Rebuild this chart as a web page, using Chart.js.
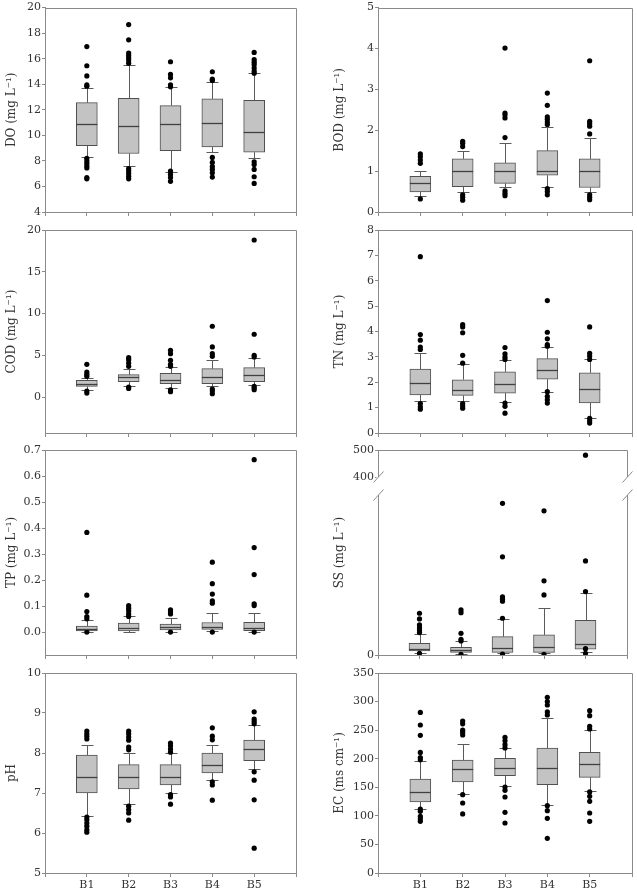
<!DOCTYPE html>
<html><head><meta charset="utf-8">
<script src="https://cdn.jsdelivr.net/npm/chart.js@4.4.1/dist/chart.umd.min.js"></script>
<style>
html,body{margin:0;padding:0;background:#fff;}
#wrap{position:relative;width:637px;height:892px;overflow:hidden;}
#wrap div{position:absolute;}
canvas{display:block;}
</style></head><body><div id="wrap"></div>
<script>
// ---------- DATA ----------
const categories = ['B1','B2','B3','B4','B5'];

const doTicks = [4,6,8,10,12,14,16,18,20];
const doLower = [8.27, 7.62, 7.1, 8.66, 8.19];
const doQ1 = [9.2, 8.58, 8.81, 9.1, 8.68];
const doMedian = [10.87, 10.74, 10.9, 11.0, 10.3];
const doQ3 = [12.56, 12.9, 12.33, 12.85, 12.74];
const doUpper = [13.73, 15.53, 13.81, 14.15, 14.85];
const doOutliers = [
  [16.95, 15.45, 14.65, 13.95, 13.85, 8.2, 8.0, 7.8, 7.6, 7.45, 6.7, 6.6],
  [18.67, 17.48, 16.44, 16.25, 16.07, 15.9, 15.65, 7.4, 7.23, 7.02, 6.8, 6.6],
  [15.76, 14.77, 14.5, 13.96, 13.8, 7.2, 6.94, 6.7, 6.4],
  [14.98, 14.4, 14.3, 8.27, 7.88, 7.56, 7.33, 7.07, 6.73],
  [16.49, 15.92, 15.73, 15.53, 15.27, 15.03, 14.87, 7.93, 7.72, 7.33, 6.76, 6.24]
];

const bodTicks = [0,1,2,3,4,5];
const bodLower = [0.4, 0.49, 0.6, 0.61, 0.49];
const bodQ1 = [0.49, 0.62, 0.7, 0.9, 0.6];
const bodMedian = [0.7, 1.0, 1.0, 1.0, 1.0];
const bodQ3 = [0.87, 1.3, 1.2, 1.5, 1.3];
const bodUpper = [1.0, 1.5, 1.7, 2.08, 1.8];
const bodOutliers = [
  [1.42, 1.35, 1.27, 1.19, 0.32],
  [1.73, 1.68, 1.6, 0.42, 0.36, 0.29],
  [4.01, 2.42, 2.37, 2.3, 1.82, 0.52, 0.46, 0.4],
  [2.91, 2.61, 2.33, 2.27, 2.2, 2.14, 0.57, 0.5, 0.42],
  [3.7, 2.22, 2.16, 2.1, 1.91, 0.42, 0.36, 0.3]
];

const codTicks = [0,5,10,15,20];
const codLower = [0.88, 1.32, 1.08, 1.28, 1.48];
const codQ1 = [1.28, 1.84, 1.6, 1.6, 1.84];
const codMedian = [1.6, 2.4, 2.08, 2.4, 2.64];
const codQ3 = [2.0, 2.68, 2.84, 3.4, 3.52];
const codUpper = [2.32, 3.4, 3.6, 4.48, 4.68];
const codOutliers = [
  [3.92, 3.0, 2.72, 2.48, 0.72, 0.48],
  [4.72, 4.48, 4.08, 3.68, 1.2, 1.04],
  [5.6, 5.2, 4.4, 3.92, 3.68, 0.88, 0.64],
  [8.48, 6.0, 5.2, 4.88, 0.96, 0.72, 0.4],
  [18.8, 7.52, 5.0, 4.8, 1.28, 1.08, 0.88]
];

const tnTicks = [0,1,2,3,4,5,6,7,8];
const tnLower = [1.25, 1.27, 1.22, 1.61, 0.61];
const tnQ1 = [1.5, 1.48, 1.57, 2.12, 1.19];
const tnMedian = [1.96, 1.71, 1.93, 2.47, 1.74];
const tnQ3 = [2.52, 2.1, 2.41, 2.93, 2.37];
const tnUpper = [3.14, 2.72, 2.89, 3.39, 2.9];
const tnOutliers = [
  [6.95, 3.88, 3.66, 3.39, 3.29, 1.16, 1.03, 0.94],
  [4.27, 4.18, 3.95, 3.06, 2.75, 1.16, 1.07, 0.98],
  [3.37, 3.12, 3.0, 2.9, 1.18, 1.05, 0.78],
  [5.22, 3.97, 3.71, 3.48, 3.42, 1.63, 1.44, 1.31, 1.18],
  [4.18, 3.14, 3.03, 2.9, 0.58, 0.48, 0.39]
];

const tpTicks = [0,0.1,0.2,0.3,0.4,0.5,0.6,0.7];
const tpLower = [0.001, 0.0, 0.001, 0.005, 0.001];
const tpQ1 = [0.005, 0.005, 0.008, 0.01, 0.006];
const tpMedian = [0.012, 0.015, 0.02, 0.02, 0.015];
const tpQ3 = [0.023, 0.035, 0.031, 0.037, 0.038];
const tpUpper = [0.047, 0.06, 0.055, 0.073, 0.072];
const tpOutliers = [
  [0.383, 0.142, 0.079, 0.06, 0.051, 0.0],
  [0.102, 0.092, 0.082, 0.07, 0.06],
  [0.086, 0.078, 0.07, 0.0],
  [0.269, 0.186, 0.146, 0.12, 0.111, 0.0],
  [0.663, 0.325, 0.221, 0.109, 0.102, 0.0]
];

const ssTicks = [0];
const ssTopTicks = [400, 500];
const ssLower = [3.1, 1.8, 2.2, 2.2, 4.0];
const ssQ1 = [5.3, 3.6, 3.6, 3.6, 7.6];
const ssMedian = [8, 6.7, 9.3, 10.2, 14.2];
const ssQ3 = [15.6, 10.2, 24.4, 26.7, 46.2];
const ssUpper = [27.6, 19.1, 47.6, 62.2, 82.2];
const ssOutliers = [
  [55.6, 48, 40, 36.4, 33.3, 29.8, 2.2],
  [60, 56.4, 28.9, 20.9, 18.7, 0.9],
  [202, 130.7, 77.3, 74.2, 71.6, 48.9, 1.3],
  [192, 98.7, 80, 0.9],
  [481, 125.3, 84.4, 8.4, 2.2]
];

const phTicks = [5,6,7,8,9,10];
const phLower = [6.43, 6.73, 7.0, 7.32, 7.61];
const phQ1 = [7.0, 7.1, 7.2, 7.5, 7.81];
const phMedian = [7.41, 7.41, 7.41, 7.71, 8.11];
const phQ3 = [7.95, 7.71, 7.71, 8.0, 8.32];
const phUpper = [8.21, 8.0, 8.0, 8.21, 8.69];
const phOutliers = [
  [8.55, 8.48, 8.42, 8.35, 6.4, 6.33, 6.25, 6.17, 6.08, 6.02],
  [8.55, 8.48, 8.4, 8.32, 8.15, 8.08, 6.67, 6.58, 6.5, 6.32],
  [8.25, 8.18, 8.1, 8.02, 6.96, 6.9, 6.72],
  [8.63, 8.42, 8.33, 7.28, 7.2, 6.82],
  [9.03, 8.85, 8.79, 8.73, 7.53, 7.32, 6.83, 5.62]
];

const ecTicks = [0,50,100,150,200,250,300,350];
const ecLower = [112.6, 138.9, 151.7, 118.4, 143];
const ecQ1 = [124.3, 159.3, 170.4, 154.6, 167.4];
const ecMedian = [141.8, 182.6, 183.8, 183.2, 190.2];
const ecQ3 = [164.5, 197.8, 200.7, 218.8, 211.2];
const ecUpper = [196.6, 226.4, 218.8, 271.3, 250.3];
const ecOutliers = [
  [281, 259, 241, 211, 202, 198, 112, 108, 99, 94.5, 90.4],
  [266, 261, 250, 246, 241.5, 137, 122.5, 103.3],
  [237.5, 231.6, 224.6, 218.8, 150.5, 144.7, 133, 106.2, 87.5],
  [307.5, 300, 294, 281.8, 276.5, 117.9, 109.1, 95.7, 60.7],
  [284, 275.4, 256.7, 252, 141.8, 134.2, 125.4, 105, 90.4]
];

// ---------- STYLE / LAYOUT ----------
const FONT = "'DejaVu Serif', 'Liberation Serif', serif";
const AXIS = '#8a8a8a';
const TEXT = '#333333';
const BOX_FILL = '#c3c3c3';
const BOX_EDGE = '#505050';
const WHISK = '#5a5a5a';
const CAP_W = 12;

const ROWS = [
  {top:0,   h:222, pt:7, xh:10},
  {top:222, h:220, pt:8, xh:9},
  {top:442, h:222, pt:8, xh:9},
  {top:664, h:228, pt:9, xh:19}
];
const COLS = [
  {left:0,   w:318, yw:45, pr:22, tpad:5},
  {left:318, w:319, yw:60, pr:5,  tpad:15}
];

const panels = [
  {title:'DO (mg L⁻¹)',  r:0,c:0, lower:doLower,q1:doQ1,med:doMedian,q3:doQ3,upper:doUpper,out:doOutliers, min:4,max:20, ticks:doTicks, dec:0},
  {title:'BOD (mg L⁻¹)', r:0,c:1, lower:bodLower,q1:bodQ1,med:bodMedian,q3:bodQ3,upper:bodUpper,out:bodOutliers, min:0,max:5, ticks:bodTicks, dec:0},
  {title:'COD (mg L⁻¹)', r:1,c:0, lower:codLower,q1:codQ1,med:codMedian,q3:codQ3,upper:codUpper,out:codOutliers, min:-4.3,max:20, ticks:codTicks, dec:0},
  {title:'TN (mg L⁻¹)',  r:1,c:1, lower:tnLower,q1:tnQ1,med:tnMedian,q3:tnQ3,upper:tnUpper,out:tnOutliers, min:0,max:8, ticks:tnTicks, dec:0},
  {title:'TP (mg L⁻¹)',  r:2,c:0, lower:tpLower,q1:tpQ1,med:tpMedian,q3:tpQ3,upper:tpUpper,out:tpOutliers, min:-0.088,max:0.7, ticks:tpTicks, dec:1},
  {title:'SS (mg L⁻¹)',  r:2,c:1, lower:ssLower,q1:ssQ1,med:ssMedian,q3:ssQ3,upper:ssUpper,out:ssOutliers, min:0,max:225, ticks:ssTicks, dec:0,
     broken:{min:366.7,max:500,ticks:ssTopTicks,cut:300,wTop:36,wLow:169}, pr:10},
  {title:'pH',           r:3,c:0, lower:phLower,q1:phQ1,med:phMedian,q3:phQ3,upper:phUpper,out:phOutliers, min:5,max:10, ticks:phTicks, dec:0},
  {title:'EC (ms cm⁻¹)', r:3,c:1, lower:ecLower,q1:ecQ1,med:ecMedian,q3:ecQ3,upper:ecUpper,out:ecOutliers, min:0,max:350, ticks:ecTicks, dec:0}
];

const boxPlugin = {
  id: 'boxplot',
  beforeDatasetsDraw(chart, args, o) {
    const x = chart.scales.x, y = chart.scales.y, ctx = chart.ctx;
    ctx.save();
    ctx.strokeStyle = WHISK; ctx.lineWidth = 1;
    o.lower.forEach((lo, i) => {
      const px = Math.round(x.getPixelForValue(i + 1)) + 0.5;
      const yl = Math.round(y.getPixelForValue(lo)) + 0.5;
      const yu = Math.round(y.getPixelForValue(o.upper[i])) + 0.5;
      const y1 = y.getPixelForValue(o.q1[i]);
      const y3 = y.getPixelForValue(o.q3[i]);
      ctx.beginPath();
      ctx.moveTo(px, y1); ctx.lineTo(px, yl);
      ctx.moveTo(px, y3); ctx.lineTo(px, yu);
      ctx.moveTo(px - CAP_W/2, yl); ctx.lineTo(px + CAP_W/2, yl);
      ctx.moveTo(px - CAP_W/2, yu); ctx.lineTo(px + CAP_W/2, yu);
      ctx.stroke();
    });
    ctx.restore();
  },
  afterDatasetsDraw(chart, args, o) {
    const x = chart.scales.x, y = chart.scales.y, ctx = chart.ctx;
    ctx.save();
    ctx.strokeStyle = '#404040'; ctx.lineWidth = 1.3;
    o.med.forEach((m, i) => {
      const px = x.getPixelForValue(i + 1);
      const py = Math.round(y.getPixelForValue(m)) + 0.5;
      ctx.beginPath(); ctx.moveTo(px - 10.5, py); ctx.lineTo(px + 10.5, py); ctx.stroke();
    });
    ctx.restore();
  },
  afterDraw(chart, args, o) {
    const ca = chart.chartArea, ctx = chart.ctx;
    const L = Math.round(ca.left) + 0.5, R = Math.round(ca.right) + 0.5, T = Math.round(ca.top) + 0.5;
    ctx.save();
    ctx.strokeStyle = AXIS; ctx.lineWidth = 1;
    ctx.beginPath(); ctx.moveTo(L, T); ctx.lineTo(R, T); ctx.lineTo(R, ca.bottom); ctx.stroke();
    if (o.broken) {
      const b = chart.scales.y.top;
      const g1 = b - 9, g2 = b + 9;
      ctx.fillStyle = '#fff';
      [L, R].forEach(xx => ctx.fillRect(xx - 2, g1, 4, g2 - g1));
      [L, R].forEach(xx => [g1, g2].forEach(gy => {
        ctx.beginPath(); ctx.moveTo(xx - 5, gy + 5.5); ctx.lineTo(xx + 5, gy - 5.5); ctx.stroke();
      }));
      // axis title for the broken panel
      ctx.fillStyle = TEXT;
      ctx.font = "12px " + FONT;
      ctx.textAlign = 'center'; ctx.textBaseline = 'middle';
      ctx.translate(o.titleX, (ca.top + ca.bottom) / 2);
      ctx.rotate(-Math.PI / 2);
      ctx.fillText(o.title, 0, 0);
    }
    ctx.restore();
  }
};

function yScale(ticksArr, dec, min, max, col, extra) {
  return Object.assign({
    type: 'linear', position: 'left', min: min, max: max,
    border: {display: true, color: AXIS, width: 1},
    grid: {display: true, drawOnChartArea: false, drawTicks: true, tickLength: 3, color: AXIS},
    ticks: {font: {family: FONT, size: 11}, color: TEXT, padding: 1, autoSkip: false,
            callback: (v) => Number(v).toFixed(dec)},
    afterBuildTicks: (s) => { s.ticks = ticksArr.map(v => ({value: v})); },
    afterFit: (s) => { s.width = col.yw; }
  }, extra || {});
}

const wrap = document.getElementById('wrap');
panels.forEach((p) => {
  const row = ROWS[p.r], col = COLS[p.c];
  const div = document.createElement('div');
  div.style.left = col.left + 'px'; div.style.top = row.top + 'px';
  div.style.width = col.w + 'px'; div.style.height = row.h + 'px';
  const cv = document.createElement('canvas');
  cv.width = col.w; cv.height = row.h;
  cv.style.width = col.w + 'px'; cv.style.height = row.h + 'px';
  div.appendChild(cv); wrap.appendChild(div);
  const showX = p.r === 3;
  const cut = p.broken ? p.broken.cut : Infinity;

  const lowPts = [], topPts = [];
  p.out.forEach((arr, i) => arr.forEach(v => (v > cut ? topPts : lowPts).push({x: i + 1, y: v})));

  const scales = {
    x: {
      type: 'linear', min: 0, max: 6, offset: false,
      border: {display: true, color: AXIS, width: 1},
      grid: {display: true, offset: false, drawOnChartArea: false, drawTicks: true, tickLength: 4, color: AXIS},
      ticks: {autoSkip: false, maxRotation: 0, font: {family: FONT, size: 11}, color: TEXT, padding: 2,
              callback: (v) => (showX && v >= 1 && v <= 5) ? categories[v - 1] : ''},
      afterBuildTicks: (s) => { s.ticks = [0,1,2,3,4,5,6].map(v => ({value: v})); },
      afterFit: (s) => { s.height = row.xh; }
    }
  };
  const titleOpt = {display: !p.broken, text: p.title, color: TEXT, font: {family: FONT, size: 12},
                    padding: {top: col.tpad, bottom: 0}};
  if (p.broken) {
    scales.yTop = yScale(p.broken.ticks, 0, p.broken.min, p.broken.max, col,
                         {stack: 'ss', stackWeight: p.broken.wTop, weight: 2});
    scales.y = yScale(p.ticks, p.dec, p.min, p.max, col,
                      {stack: 'ss', stackWeight: p.broken.wLow, weight: 1});
  } else {
    scales.y = yScale(p.ticks, p.dec, p.min, p.max, col, {title: titleOpt});
  }

  const datasets = [
    {type: 'bar', order: 2, yAxisID: 'y',
     data: categories.map((c, i) => ({x: i + 1, y: [p.q1[i], p.q3[i]]})),
     backgroundColor: BOX_FILL, borderColor: BOX_EDGE, borderWidth: 1, borderSkipped: false, barThickness: 21},
    {type: 'scatter', order: 1, yAxisID: 'y', data: lowPts,
     pointRadius: 2.6, pointBackgroundColor: '#000', pointBorderWidth: 0, showLine: false}
  ];
  if (p.broken) {
    datasets.push({type: 'scatter', order: 0, yAxisID: 'yTop', data: topPts,
     pointRadius: 2.6, pointBackgroundColor: '#000', pointBorderWidth: 0, showLine: false});
  }

  new Chart(cv, {
    type: 'bar',
    data: {datasets: datasets},
    options: {
      responsive: false, animation: false, events: [],
      layout: {padding: {left: 0, top: row.pt, right: (p.pr != null ? p.pr : col.pr), bottom: 0}},
      plugins: {
        legend: {display: false}, tooltip: {enabled: false},
        boxplot: {lower: p.lower, q1: p.q1, med: p.med, q3: p.q3, upper: p.upper,
                  broken: !!p.broken, title: p.title, titleX: 7.2 + col.tpad}
      },
      scales: scales
    },
    plugins: [boxPlugin]
  });
});
</script>
</body></html>
